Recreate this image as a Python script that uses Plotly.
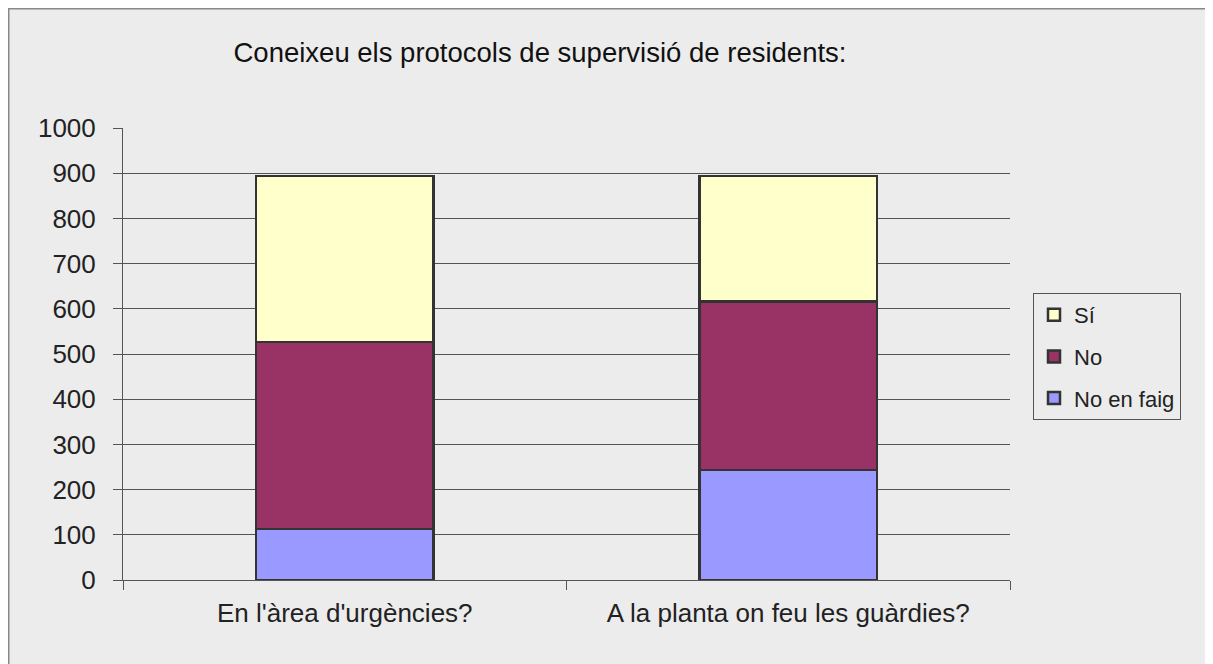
import plotly.graph_objects as go

categories = ["En l'àrea d'urgències?", "A la planta on feu les guàrdies?"]
series_names = ["No en faig", "No", "Sí"]
no_en_faig = [113, 243]
no = [414, 373]
si = [367, 278]
y_ticks = [0, 100, 200, 300, 400, 500, 600, 700, 800, 900, 1000]

colors = {"No en faig": "#9999FF", "No": "#993366", "Sí": "#FFFFCC"}
values = {"No en faig": no_en_faig, "No": no, "Sí": si}
ranks = {"Sí": 1, "No": 2, "No en faig": 3}

FONT = "Liberation Sans, Arial, sans-serif"
BG = "#ECECEC"
OFF = 8  # page body margin

fig = go.Figure()
for name in series_names:
    fig.add_trace(go.Bar(
        x=categories, y=values[name], name=name, legendgroup=name,
        legendrank=ranks[name],
        marker=dict(color=colors[name], line=dict(color="#333333", width=2.5)),
    ))

W, H = 1213 - OFF, 664 - OFF
L, R, T, B = 123 - OFF, 1010 - OFF, 128 - OFF, 580 - OFF
pw, ph = R - L, B - T

fig.update_layout(
    width=W, height=H,
    margin=dict(l=L, r=W - R, t=T, b=H - B),
    paper_bgcolor=BG, plot_bgcolor=BG,
    barmode="stack", bargap=0.6,
    font=dict(family=FONT, color="#222222"),
    title=dict(text="Coneixeu els protocols de supervisió de residents:",
               font=dict(size=27.5, color="#111111"),
               x=(540 - OFF - L) / pw, xref="paper", xanchor="center",
               y=1 - (52 - OFF) / H, yref="container", yanchor="middle"),
    legend=dict(
        x=(1033 - OFF - L) / pw, xanchor="left", y=(B - (293 - OFF)) / ph, yanchor="top",
        traceorder="grouped", tracegroupgap=10,
        bgcolor=BG, bordercolor="#555555", borderwidth=1,
        font=dict(size=22, color="#222222"),
    ),
    showlegend=True,
)
fig.update_yaxes(
    range=[0, 1000], tickvals=y_ticks, ticks="outside", ticklen=9,
    tickcolor="#555555", showgrid=True, gridcolor="#555555", gridwidth=1,
    showline=True, linecolor="#555555", linewidth=1, zeroline=False,
    tickfont=dict(size=26, color="#222222"), ticklabelstandoff=12,
)
fig.update_xaxes(
    ticks="outside", tickson="boundaries", ticklen=9, tickcolor="#555555",
    showline=True, linecolor="#555555", linewidth=1, showgrid=False,
    tickfont=dict(size=26, color="#222222"), ticklabelstandoff=10,
)
fig.add_shape(type="rect", xref="paper", yref="paper",
              x0=(0.75 - L) / pw, x1=1.5, y0=-0.5, y1=(B - 0.75) / ph,
              line=dict(color="#888888", width=1.5), fillcolor="rgba(0,0,0,0)", layer="below")

fig.write_html("out.html",
               post_script="document.body.style.overflow='hidden';")
